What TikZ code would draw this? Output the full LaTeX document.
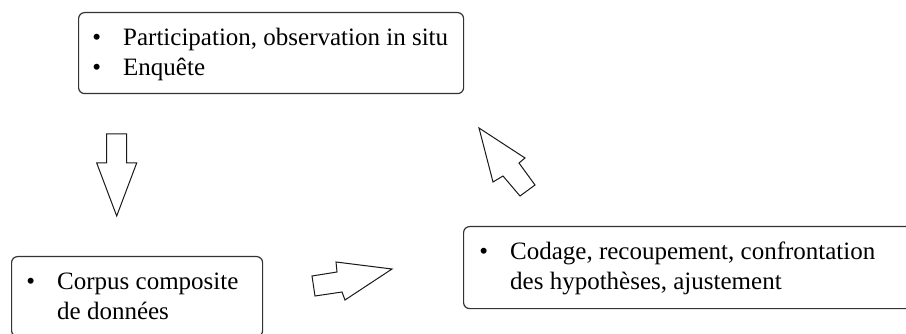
\documentclass[tikz,border=0pt]{standalone}
\usepackage{fontspec}
\setmainfont{Liberation Serif}
\usepackage{tikz}
\tikzset{
  box/.style = {draw=black!80, line width=1.2pt, rounded corners=6pt, anchor=north west, inner sep=0pt},
  boxtext/.style = {anchor=base west, inner sep=0pt, font=\fontsize{25}{29.5}\selectfont},
  blockarrow/.style = {draw=black!90, line width=1pt, line join=miter, fill=white},
}
\newcommand{\puce}{\llap{\textbullet\hspace{22pt}}}

\begin{document}
\begin{tikzpicture}[x=1pt, y=-1pt]
\useasboundingbox (0,0) rectangle (906,334);

\node [box, minimum width=385, minimum height=81] (terrain) at (78,12) {};
\node [boxtext] (terraintext) at (123,46) {\begin{tabular}[t]{@{}l@{}}
  \puce Participation, observation in situ\\
  \puce Enquête
\end{tabular}};

\node [box, minimum width=251, minimum height=80] (corpus) at (11,256) {};
\node [boxtext] (corpustext) at (57,290) {\begin{tabular}[t]{@{}l@{}}
  \puce Corpus composite\\
  de données
\end{tabular}};

\node [box, minimum width=450, minimum height=82] (analyse) at (463,226) {};
\node [boxtext] (analysetext) at (510,260) {\begin{tabular}[t]{@{}l@{}}
  \puce Codage, recoupement, confrontation\\
  des hypothèses, ajustement
\end{tabular}};

\draw [blockarrow] (106.7,134) -- (126.7,134) -- (126.7,163) -- (136.7,163)
  -- (116.7,216) -- (96.7,163) -- (106.7,163) -- cycle;
\draw [blockarrow] (312,276) -- (337,272) -- (336,262) -- (392,269)
  -- (345,300) -- (342,292) -- (315,296) -- cycle;
\draw [blockarrow] (479,128) -- (525,158) -- (519,163) -- (535,185)
  -- (520,196) -- (503,176) -- (493,182) -- cycle;
\end{tikzpicture}
\end{document}
